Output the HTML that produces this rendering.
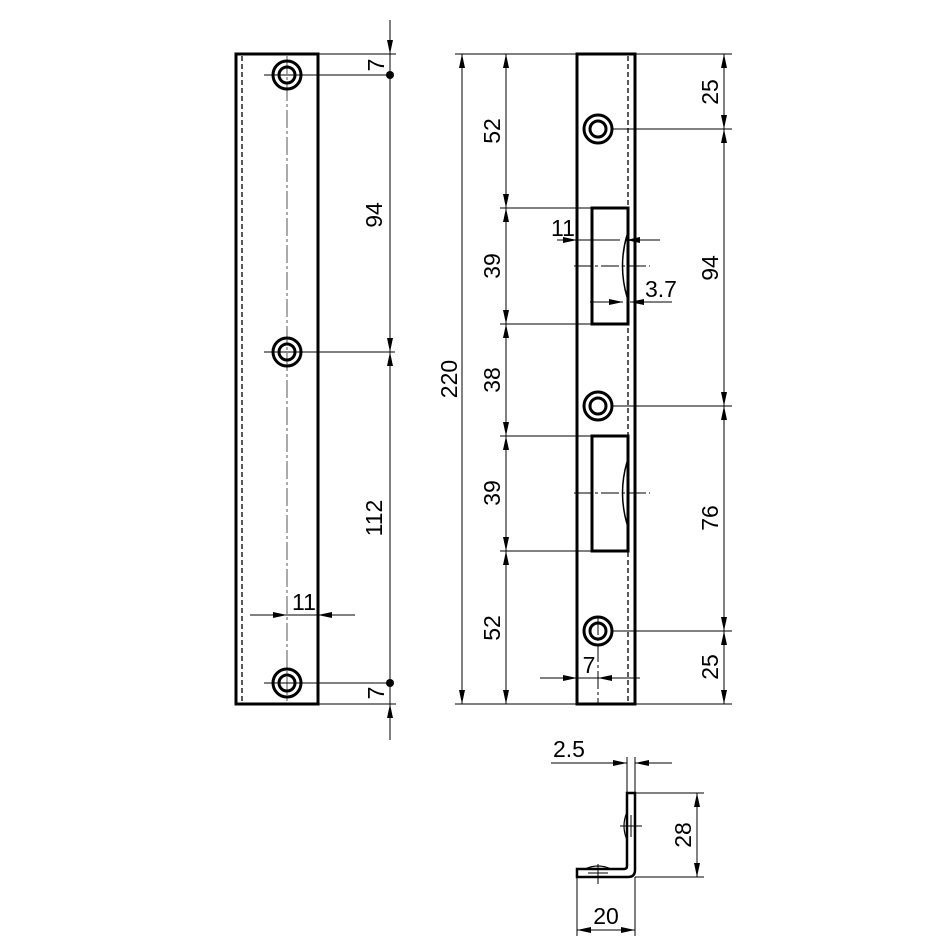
<!DOCTYPE html>
<html><head><meta charset="utf-8"><style>
html,body{margin:0;padding:0;background:#fff;}
svg{display:block;}
text{font-family:"Liberation Sans","DejaVu Sans",sans-serif;font-size:23px;fill:#000;}
</style></head><body>
<svg width="946" height="946" viewBox="0 0 946 946" xmlns="http://www.w3.org/2000/svg">
<defs>
<marker id="a" viewBox="0 0 14 6" refX="14" refY="3" markerWidth="14" markerHeight="6" markerUnits="userSpaceOnUse" orient="auto-start-reverse"><path d="M0,0 L14,3 L0,6 Z" fill="#000"/></marker>
</defs>
<g fill="none" stroke="#000">
<rect x="236" y="54" width="82" height="650" stroke-width="3"/>
<line x1="242" y1="56" x2="242" y2="702" stroke-width="1.3" stroke-dasharray="5,3"/>
<line x1="287" y1="56" x2="287" y2="702" stroke-width="1" stroke-dasharray="18,3,3,3" stroke="#555"/>
<g stroke-width="3">
<circle cx="287" cy="75" r="14"/><circle cx="287" cy="75" r="8"/>
<circle cx="287" cy="352" r="14"/><circle cx="287" cy="352" r="8"/>
<circle cx="287" cy="683" r="14"/><circle cx="287" cy="683" r="8"/>
</g>
<g stroke-width="1">
<line x1="264" y1="75" x2="390" y2="75"/><line x1="264" y1="352" x2="395" y2="352"/><line x1="264" y1="683" x2="390" y2="683"/>
<line x1="318" y1="54" x2="396" y2="54"/><line x1="318" y1="704" x2="396" y2="704"/>
<line x1="390" y1="20" x2="390" y2="54" marker-end="url(#a)"/>
<line x1="390" y1="54" x2="390" y2="75"/>
<line x1="390" y1="75" x2="390" y2="352" marker-end="url(#a)"/>
<line x1="390" y1="352" x2="390" y2="683" marker-start="url(#a)"/>
<line x1="390" y1="683" x2="390" y2="704"/>
<line x1="390" y1="740" x2="390" y2="704" marker-end="url(#a)"/>
<line x1="250" y1="615" x2="287" y2="615" marker-end="url(#a)"/>
<line x1="287" y1="615" x2="318" y2="615"/>
<line x1="355" y1="615" x2="318" y2="615" marker-end="url(#a)"/>
</g>
<circle cx="390" cy="75" r="4" fill="#000" stroke="none"/>
<circle cx="390" cy="683" r="4" fill="#000" stroke="none"/>

<rect x="577" y="54" width="58" height="650" stroke-width="3"/>
<line x1="628" y1="56" x2="628" y2="702" stroke-width="1.3" stroke-dasharray="5,3"/>
<g stroke-width="3">
<circle cx="598" cy="129" r="14"/><circle cx="598" cy="129" r="8"/>
<circle cx="598" cy="406" r="14"/><circle cx="598" cy="406" r="8"/>
<circle cx="598" cy="631" r="14"/><circle cx="598" cy="631" r="8"/>
<rect x="592" y="208" width="36" height="116"/>
<rect x="592" y="436" width="36" height="115"/>
</g>
<path d="M627,235 Q618,266 627,297" stroke-width="1.5"/>
<path d="M627,462 Q618,493 627,524" stroke-width="1.5"/>
<g stroke-width="1">
<line x1="574" y1="266" x2="650" y2="266" stroke-dasharray="18,3,3,3"/>
<line x1="574" y1="493" x2="650" y2="493" stroke-dasharray="18,3,3,3"/>
<line x1="635" y1="54" x2="732" y2="54"/><line x1="635" y1="704" x2="732" y2="704"/>
<line x1="455" y1="54" x2="577" y2="54"/><line x1="455" y1="704" x2="577" y2="704"/>
<line x1="612" y1="129" x2="732" y2="129"/><line x1="612" y1="406" x2="732" y2="406"/><line x1="612" y1="631" x2="732" y2="631"/>
<line x1="500" y1="208" x2="592" y2="208"/><line x1="500" y1="324" x2="592" y2="324"/>
<line x1="500" y1="436" x2="592" y2="436"/><line x1="500" y1="551" x2="592" y2="551"/>
<line x1="462" y1="54" x2="462" y2="704" marker-start="url(#a)" marker-end="url(#a)"/>
<line x1="506" y1="54" x2="506" y2="208" marker-start="url(#a)" marker-end="url(#a)"/>
<line x1="506" y1="208" x2="506" y2="324" marker-start="url(#a)" marker-end="url(#a)"/>
<line x1="506" y1="324" x2="506" y2="436" marker-start="url(#a)" marker-end="url(#a)"/>
<line x1="506" y1="436" x2="506" y2="551" marker-start="url(#a)" marker-end="url(#a)"/>
<line x1="506" y1="551" x2="506" y2="704" marker-start="url(#a)" marker-end="url(#a)"/>
<line x1="724" y1="54" x2="724" y2="129" marker-start="url(#a)" marker-end="url(#a)"/>
<line x1="724" y1="129" x2="724" y2="406" marker-start="url(#a)" marker-end="url(#a)"/>
<line x1="724" y1="406" x2="724" y2="631" marker-start="url(#a)" marker-end="url(#a)"/>
<line x1="724" y1="631" x2="724" y2="704" marker-start="url(#a)" marker-end="url(#a)"/>
<line x1="557" y1="240" x2="577" y2="240" marker-end="url(#a)"/>
<line x1="577" y1="240" x2="620" y2="240"/>
<line x1="660" y1="240" x2="626" y2="240" marker-end="url(#a)"/>
<line x1="590" y1="302" x2="623" y2="302" marker-end="url(#a)"/>
<line x1="672" y1="302" x2="630" y2="302" marker-end="url(#a)"/>
<line x1="540" y1="678" x2="577" y2="678" marker-end="url(#a)"/>
<line x1="577" y1="678" x2="598" y2="678"/>
<line x1="640" y1="678" x2="598" y2="678" marker-end="url(#a)"/>
<line x1="598" y1="617" x2="598" y2="704" stroke-dasharray="18,3,3,3"/>
</g>

<path d="M627,793 L635,793 L635,870 Q635,877 628,877 L577,877 L577,869 L624,869 Q627,869 627,866 Z" stroke-width="2.5"/>
<path d="M627,812 Q621,826 627,840" stroke-width="1.2"/>
<path d="M585,869 Q598,863 611,869" stroke-width="1.2"/>
<g stroke-width="1">
<line x1="627" y1="757" x2="627" y2="793"/><line x1="635" y1="757" x2="635" y2="793"/>
<line x1="551" y1="763" x2="627" y2="763" marker-end="url(#a)"/>
<line x1="672" y1="763" x2="635" y2="763" marker-end="url(#a)"/>
<line x1="635" y1="793" x2="704" y2="793"/><line x1="635" y1="877" x2="704" y2="877"/>
<line x1="697" y1="793" x2="697" y2="877" marker-start="url(#a)" marker-end="url(#a)"/>
<line x1="577" y1="877" x2="577" y2="936"/><line x1="635" y1="877" x2="635" y2="936"/>
<line x1="577" y1="930" x2="635" y2="930" marker-start="url(#a)" marker-end="url(#a)"/>
<line x1="620" y1="826" x2="642" y2="826"/><line x1="631" y1="815" x2="631" y2="837"/>
<line x1="588" y1="873" x2="608" y2="873"/><line x1="598" y1="864" x2="598" y2="884"/>
</g>
</g>
<g>
<text transform="translate(384,65) rotate(-90)" text-anchor="middle">7</text>
<text transform="translate(382,215) rotate(-90)" text-anchor="middle">94</text>
<text transform="translate(382,518) rotate(-90)" text-anchor="middle">112</text>
<text transform="translate(384,693) rotate(-90)" text-anchor="middle">7</text>
<text x="304" y="610" text-anchor="middle">11</text>
<text transform="translate(457,379) rotate(-90)" text-anchor="middle">220</text>
<text transform="translate(500,131) rotate(-90)" text-anchor="middle">52</text>
<text transform="translate(500,266) rotate(-90)" text-anchor="middle">39</text>
<text transform="translate(500,380) rotate(-90)" text-anchor="middle">38</text>
<text transform="translate(500,493) rotate(-90)" text-anchor="middle">39</text>
<text transform="translate(500,628) rotate(-90)" text-anchor="middle">52</text>
<text transform="translate(718,92) rotate(-90)" text-anchor="middle">25</text>
<text transform="translate(718,268) rotate(-90)" text-anchor="middle">94</text>
<text transform="translate(718,518) rotate(-90)" text-anchor="middle">76</text>
<text transform="translate(718,667) rotate(-90)" text-anchor="middle">25</text>
<text x="563" y="236" text-anchor="middle">11</text>
<text x="661" y="297" text-anchor="middle">3.7</text>
<text x="589" y="673" text-anchor="middle">7</text>
<text x="569" y="757" text-anchor="middle">2.5</text>
<text transform="translate(691,835) rotate(-90)" text-anchor="middle">28</text>
<text x="606" y="924" text-anchor="middle">20</text>
</g>
</svg>
</body></html>
